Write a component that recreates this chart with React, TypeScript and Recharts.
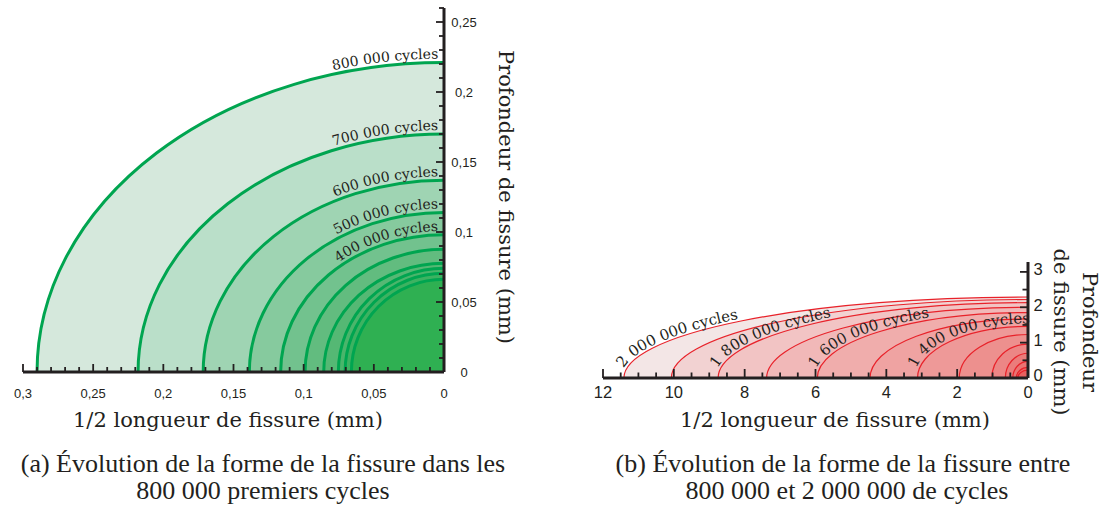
import React from "react";
import { ScatterChart, Scatter, XAxis, YAxis, ReferenceArea } from "recharts";

const INK = "#231f20";

// (a) fronts de fissure, 0 -> 800 000 cycles (mm)
const labelsA = ["800 000 cycles", "700 000 cycles", "600 000 cycles", "500 000 cycles", "400 000 cycles", "", "", "", "", ""];
const halfLengthA = [0.29, 0.218, 0.1716, 0.1387, 0.1164, 0.099, 0.0857, 0.0753, 0.0705, 0.066];
const depthA = [0.221, 0.17, 0.137, 0.114, 0.098, 0.0876, 0.0776, 0.0741, 0.0705, 0.0662];
const fillsA = ["#d5e8dc", "#badfc9", "#9fd4b3", "#86ca9e", "#72c28e", "#62bc7f", "#55b874", "#4ab56b", "#3db261", "#2fb052"];

// (b) fronts de fissure, 800 000 -> 2 000 000 cycles (mm)
const labelsB = ["2 000 000 cycles", "", "1 800 000 cycles", "", "1 600 000 cycles", "", "1 400 000 cycles", "", "", "", "", "", ""];
const halfLengthB = [11.41, 10.07, 8.75, 7.38, 5.95, 4.46, 3.12, 1.94, 1.02, 0.64, 0.43, 0.33, 0.29];
const depthB = [2.29, 2.22, 2.13, 2.0, 1.85, 1.67, 1.46, 1.23, 0.96, 0.7, 0.47, 0.3, 0.22];
const fillsB = ["#f3e6e6", "#f2d2d2", "#f2c4c4", "#f1b8b8", "#f0adac", "#efa3a2", "#ee9998", "#ed908e", "#ec8685", "#eb7c7b", "#ea7372", "#e96a69", "#e86160"];

// axes
const xMajorA = [0, 0.05, 0.1, 0.15, 0.2, 0.25, 0.3];
const xLabelsA = ["0", "0,05", "0,1", "0,15", "0,2", "0,25", "0,3"];
const yMajorA = [0, 0.05, 0.1, 0.15, 0.2, 0.25];
const yLabelsA = ["0", "0,05", "0,1", "0,15", "0,2", "0,25"];
const xMajorB = [0, 2, 4, 6, 8, 10, 12];
const xLabelsB = ["0", "2", "4", "6", "8", "10", "12"];
const yMajorB = [0, 1, 2, 3];
const yLabelsB = ["0", "1", "2", "3"];

const steps = (max: number, step: number) =>
  Array.from({ length: Math.round(max / step) + 1 }, (_, i) => +(i * step).toFixed(4));

const xTicksA = steps(0.3, 0.01);
const yTicksA = steps(0.26, 0.01);
const xTicksB = steps(12, 0.5);
const yTicksB = steps(3, 0.5);

const tipsA = halfLengthA.map((a, i) => ({ x: a, y: depthA[i] }));
const tipsB = halfLengthB.map((a, i) => ({ x: a, y: depthB[i] }));

const findMajor = (majors: number[], v: number) =>
  majors.findIndex((m) => Math.abs(m - v) < 1e-6);

function bottomTick(majors: number[], labels: string[], fontSize: number, dyLabel: number, long: number, short: number) {
  return (props: any) => {
    const { x, y, payload } = props;
    const k = findMajor(majors, payload.value);
    return (
      <g>
        <line x1={x} x2={x} y1={y} y2={y - (k >= 0 ? long : short)} stroke={INK} strokeWidth={1.8} />
        {k >= 0 && (
          <text x={x} y={y + dyLabel} textAnchor="middle" fontSize={fontSize} fontFamily="Liberation Sans" fill={INK}>
            {labels[k]}
          </text>
        )}
      </g>
    );
  };
}

function rightTick(majors: number[], labels: string[], fontSize: number, dxLabel: number, lift: number, long: number, short: number) {
  return (props: any) => {
    const { x, y, payload } = props;
    const k = findMajor(majors, payload.value);
    return (
      <g>
        <line x1={x} x2={x - (k >= 0 ? long : short)} y1={y} y2={y} stroke={INK} strokeWidth={1.8} />
        {k >= 0 && (
          <text x={x + dxLabel} y={y - lift} dy="0.35em" textAnchor="middle" fontSize={fontSize} fontFamily="Liberation Sans" fill={INK}>
            {labels[k]}
          </text>
        )}
      </g>
    );
  };
}

type FrontOpts = {
  id: string;
  fill: string;
  stroke: string;
  strokeWidth: number;
  label: string;
  fontSize: number;
  gap: number;
  atEnd: boolean;
  offset: number;
};

// quart d'ellipse inscrit dans le rectangle de la ReferenceArea (origine en bas à droite)
function front(o: FrontOpts) {
  return (props: any) => {
    const { x, y, width, height } = props;
    const cx = x + width;
    const cy = y + height;
    const rx = width;
    const ry = height;
    const wedge = `M${cx},${cy} L${cx - rx},${cy} A${rx},${ry} 0 0 1 ${cx},${cy - ry} Z`;
    const arc = `M${cx - rx},${cy} A${rx},${ry} 0 0 1 ${cx},${cy - ry}`;
    const a = rx + o.gap;
    const b = ry + o.gap;
    const textArc = `M${cx - a},${cy} A${a},${b} 0 0 1 ${cx},${cy - b}`;
    const len = (Math.PI * (3 * (a + b) - Math.sqrt((3 * a + b) * (a + 3 * b)))) / 4;
    return (
      <g>
        <path d={wedge} fill={o.fill} stroke="none" />
        <path d={arc} fill="none" stroke={o.stroke} strokeWidth={o.strokeWidth} />
        {o.label && (
          <>
            <path id={o.id} d={textArc} fill="none" stroke="none" />
            <text fontSize={o.fontSize} fontFamily="DejaVu Serif" fill={INK}>
              <textPath
                href={`#${o.id}`}
                startOffset={o.atEnd ? len - o.offset : o.offset}
                textAnchor={o.atEnd ? "end" : "start"}
              >
                {o.label}
              </textPath>
            </text>
          </>
        )}
      </g>
    );
  };
}

const axisLine = { stroke: INK, strokeWidth: 3 };
const noDot = () => <g />;

export default function App() {
  return (
    <div style={{ position: "absolute", left: 0, top: 0, width: 1106, height: 511, background: "#fff", overflow: "hidden" }}>
      <div style={{ position: "absolute", left: 0, top: 0 }}>
        <ScatterChart width={540} height={440} margin={{ top: 8, right: 36, bottom: 38, left: 23 }}>
          <XAxis
            type="number"
            dataKey="x"
            domain={[0, 0.3]}
            allowDataOverflow
            reversed
            ticks={xTicksA}
            interval={0}
            height={30}
            tickSize={0}
            tickMargin={0}
            tickLine={false}
            axisLine={axisLine}
            tick={bottomTick(xMajorA, xLabelsA, 13, 26, 8, 5)}
          />
          <YAxis
            type="number"
            dataKey="y"
            orientation="right"
            domain={[0, 0.26]}
            allowDataOverflow
            ticks={yTicksA}
            interval={0}
            width={60}
            tickSize={0}
            tickMargin={0}
            tickLine={false}
            axisLine={axisLine}
            tick={rightTick(yMajorA, yLabelsA, 13, 20, 0, 8, 5)}
          />
          {halfLengthA.map((a, i) => (
            <ReferenceArea
              key={`a${i}`}
              x1={0}
              x2={a}
              y1={0}
              y2={depthA[i]}
              ifOverflow="visible"
              shape={front({
                id: `fa${i}`,
                fill: fillsA[i],
                stroke: "#00a550",
                strokeWidth: 3,
                label: labelsA[i],
                fontSize: 14,
                gap: 4,
                atEnd: true,
                offset: 6,
              })}
            />
          ))}
          <Scatter data={tipsA} shape={noDot} isAnimationActive={false} />
        </ScatterChart>
      </div>

      <div style={{ position: "absolute", left: 546, top: 0 }}>
        <ScatterChart width={560} height={440} margin={{ top: 262, right: 18, bottom: 32, left: 57 }}>
          <XAxis
            type="number"
            dataKey="x"
            domain={[0, 12]}
            allowDataOverflow
            reversed
            ticks={xTicksB}
            interval={0}
            height={30}
            tickSize={0}
            tickMargin={0}
            tickLine={false}
            axisLine={axisLine}
            tick={bottomTick(xMajorB, xLabelsB, 16.5, 20, 9, 5.5)}
          />
          <YAxis
            type="number"
            dataKey="y"
            orientation="right"
            domain={[0, 3.28]}
            allowDataOverflow
            ticks={yTicksB}
            interval={0}
            width={60}
            tickSize={0}
            tickMargin={0}
            tickLine={false}
            axisLine={axisLine}
            tick={rightTick(yMajorB, yLabelsB, 16.5, 10, 2.5, 8, 5.5)}
          />
          {halfLengthB.map((a, i) => (
            <ReferenceArea
              key={`b${i}`}
              x1={0}
              x2={a}
              y1={0}
              y2={depthB[i]}
              ifOverflow="visible"
              shape={front({
                id: `fb${i}`,
                fill: fillsB[i],
                stroke: "#e8222a",
                strokeWidth: 1.2,
                label: labelsB[i],
                fontSize: 15,
                gap: 3,
                atEnd: false,
                offset: 10,
              })}
            />
          ))}
          <Scatter data={tipsB} shape={noDot} isAnimationActive={false} />
        </ScatterChart>
      </div>

      <svg width={1106} height={511} style={{ position: "absolute", left: 0, top: 0, pointerEvents: "none" }}>
        <g fontFamily="DejaVu Serif" fontSize={21} fill={INK}>
          <text x={228} y={427} textAnchor="middle">1/2 longueur de fissure (mm)</text>
          <text x={835} y={427} textAnchor="middle">1/2 longueur de fissure (mm)</text>
          <text x={506} y={197} textAnchor="middle" dominantBaseline="central" transform="rotate(90 506 197)">
            Profondeur de fissure (mm)
          </text>
          <text x={1090} y={332} textAnchor="middle" dominantBaseline="central" transform="rotate(90 1090 332)">
            Profondeur
          </text>
          <text x={1061} y={332} textAnchor="middle" dominantBaseline="central" transform="rotate(90 1061 332)">
            de fissure (mm)
          </text>
        </g>
        <g fontFamily="Liberation Serif" fontSize={26} fill={INK} style={{ whiteSpace: "pre" }}>
          <text x={263} y={472} textAnchor="middle">(a)  Évolution de la forme de la fissure dans les</text>
          <text x={263} y={499} textAnchor="middle">800 000 premiers cycles</text>
          <text x={843} y={472} textAnchor="middle">(b)  Évolution de la forme de la fissure entre</text>
          <text x={847} y={499} textAnchor="middle">800 000 et 2 000 000 de cycles</text>
        </g>
      </svg>
    </div>
  );
}
